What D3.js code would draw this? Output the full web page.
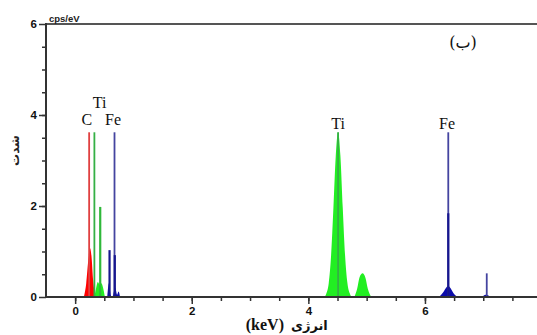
<!DOCTYPE html>
<html>
<head>
<meta charset="utf-8">
<script src="https://cdn.jsdelivr.net/npm/d3@7"></script>
<style>
  body { margin: 0; background: #fff; }
  svg { display: block; }
</style>
</head>
<body>
<div id="vis"></div>
<script>
// axis ticks
const xMajorTicks = [0, 2, 4, 6];
const xMinorTicks = [0, 0.5, 1, 1.5, 2, 2.5, 3, 3.5, 4, 4.5, 5, 5.5, 6, 6.5, 7, 7.5];
const yMajorTicks = [0, 2, 4, 6];
const yMinorTicks = [0.5, 1, 1.5, 2, 2.5, 3, 3.5, 4, 4.5, 5, 5.5];

// filled peaks, [keV, cps/eV]
const cPeak = [[0.15, 0], [0.19, 0.3], [0.225, 0.8], [0.255, 1.07], [0.28, 0.9], [0.31, 0.35], [0.35, 0]];
const tiLPeak = [[0.33, 0], [0.36, 0.2], [0.39, 0.33], [0.42, 0.27], [0.45, 0.3], [0.48, 0.2], [0.51, 0]];
const feLPeak = [[0.55, 0], [0.58, 0.3], [0.61, 0.04], [0.64, 0], [0.66, 0.1], [0.69, 0.2], [0.72, 0.05], [0.745, 0.12], [0.77, 0]];
const tiKaPeak = [[4.28, 0], [4.31, 0.08], [4.35, 0.31], [4.39, 0.91], [4.43, 1.96], [4.47, 3.1], [4.51, 3.62], [4.55, 3.1], [4.59, 1.96], [4.63, 0.91], [4.67, 0.31], [4.71, 0.08], [4.74, 0]];
const tiKbPeak = [[4.79, 0], [4.84, 0.2], [4.88, 0.44], [4.93, 0.52], [4.98, 0.42], [5.02, 0.18], [5.08, 0]];
const feKaPeak = [[6.24, 0], [6.31, 0.1], [6.36, 0.2], [6.40, 0.24], [6.44, 0.19], [6.49, 0.08], [6.56, 0]];
const feKbPeak = [[6.98, 0], [7.04, 0.05], [7.08, 0.04], [7.12, 0]];

// element marker lines (thin, full height) and line heights (thick)
const markerLines = [
  { el: 'C', kev: 0.24, h: 3.62 },
  { el: 'Ti', kev: 0.33, h: 3.62 },
  { el: 'Fe', kev: 0.675, h: 3.62 },
  { el: 'Ti', kev: 4.51, h: 3.62 },
  { el: 'Fe', kev: 6.40, h: 3.62 },
  { el: 'Fe', kev: 7.06, h: 0.52 }
];
const lineHeights = [
  { el: 'Ti', kev: 0.43, h: 1.98 },
  { el: 'Fe', kev: 0.59, h: 1.03 },
  { el: 'Fe', kev: 0.68, h: 0.92 },
  { el: 'Fe', kev: 6.40, h: 1.84 }
];

// peak labels
const peakLabels = [
  { text: 'C', kev: 0.20, y: 3.77 },
  { text: 'Ti', kev: 0.42, y: 4.15 },
  { text: 'Fe', kev: 0.65, y: 3.77 },
  { text: 'Ti', kev: 4.51, y: 3.70 },
  { text: 'Fe', kev: 6.38, y: 3.70 }
];

const fillColor = { C: '#ff0000', Ti: '#22ee22', Fe: '#0c0caa' };
const lineColor = { C: '#e04040', Ti: '#35b045', Fe: '#4444a0' };

const W = 537, H = 335;
const svg = d3.select('#vis').append('svg')
  .attr('width', W)
  .attr('height', H);

const x = d3.scaleLinear().domain([-0.5, 8]).range([46, 46 + 8.5 * 58.3]);
const y = d3.scaleLinear().domain([0, 6]).range([297, 24]);

const area = d3.area()
  .x(d => x(d[0]))
  .y0(y(0))
  .y1(d => y(d[1]))
  .curve(d3.curveMonotoneX);

const peaks = [
  { el: 'C', pts: cPeak },
  { el: 'Ti', pts: tiLPeak },
  { el: 'Fe', pts: feLPeak },
  { el: 'Ti', pts: tiKaPeak },
  { el: 'Ti', pts: tiKbPeak },
  { el: 'Fe', pts: feKaPeak },
  { el: 'Fe', pts: feKbPeak }
];

svg.append('g').selectAll('path')
  .data(peaks)
  .join('path')
  .attr('d', d => area(d.pts))
  .attr('fill', d => fillColor[d.el]);

svg.append('g').selectAll('line')
  .data(markerLines)
  .join('line')
  .attr('x1', d => x(d.kev)).attr('x2', d => x(d.kev))
  .attr('y1', y(0)).attr('y2', d => y(d.h))
  .attr('stroke', d => lineColor[d.el])
  .attr('stroke-width', 1.8);

svg.append('g').selectAll('line')
  .data(lineHeights)
  .join('line')
  .attr('x1', d => x(d.kev)).attr('x2', d => x(d.kev))
  .attr('y1', y(0)).attr('y2', d => y(d.h))
  .attr('stroke', d => d.el === 'Fe' ? '#16168e' : '#2fb83a')
  .attr('stroke-width', 2.2);

svg.append('g').selectAll('text')
  .data(peakLabels)
  .join('text')
  .attr('x', d => x(d.kev))
  .attr('y', d => y(d.y))
  .attr('text-anchor', 'middle')
  .attr('font-family', '"Liberation Serif", "Times New Roman", serif')
  .attr('font-size', 16)
  .attr('fill', '#111')
  .text(d => d.text);

// axes
const tickFont = g => g.selectAll('text')
  .attr('font-family', '"Liberation Sans", Arial, sans-serif')
  .attr('font-weight', 'bold')
  .attr('font-size', 11.5)
  .attr('fill', '#111');

const xMinor = svg.append('g')
  .attr('transform', `translate(0,${y(0)})`)
  .call(d3.axisBottom(x).tickValues(xMinorTicks).tickSize(4).tickFormat(''));
xMinor.select('.domain').remove();
xMinor.selectAll('line').attr('stroke', '#333').attr('stroke-width', 1.5);

const xMajor = svg.append('g')
  .attr('transform', `translate(0,${y(0)})`)
  .call(d3.axisBottom(x).tickValues(xMajorTicks).tickSize(7).tickPadding(3).tickFormat(d3.format('d')));
xMajor.select('.domain').remove();
xMajor.selectAll('line').attr('stroke', '#333').attr('stroke-width', 1.5);
xMajor.call(tickFont);

const yMinor = svg.append('g')
  .attr('transform', `translate(${x(-0.5)},0)`)
  .call(d3.axisLeft(y).tickValues(yMinorTicks).tickSize(4).tickFormat(''));
yMinor.select('.domain').remove();
yMinor.selectAll('line').attr('stroke', '#333').attr('stroke-width', 1.5);

const yMajor = svg.append('g')
  .attr('transform', `translate(${x(-0.5)},0)`)
  .call(d3.axisLeft(y).tickValues(yMajorTicks).tickSize(7).tickPadding(2).tickFormat(d3.format('d')));
yMajor.select('.domain').remove();
yMajor.selectAll('line').attr('stroke', '#333').attr('stroke-width', 1.5);
yMajor.call(tickFont);

// frame lines
svg.append('line')
  .attr('x1', x(-0.5)).attr('x2', W)
  .attr('y1', y(0)).attr('y2', y(0))
  .attr('stroke', '#333').attr('stroke-width', 2);
svg.append('line')
  .attr('x1', x(-0.5)).attr('x2', W)
  .attr('y1', y(6)).attr('y2', y(6))
  .attr('stroke', '#555').attr('stroke-width', 2);
svg.append('line')
  .attr('x1', x(-0.5)).attr('x2', x(-0.5))
  .attr('y1', y(6) - 1).attr('y2', y(0) + 1)
  .attr('stroke', '#333').attr('stroke-width', 2);

// unit, titles
svg.append('text')
  .attr('x', 49).attr('y', 22)
  .attr('font-family', '"Liberation Sans", Arial, sans-serif')
  .attr('font-weight', 'bold')
  .attr('font-size', 9.5)
  .attr('fill', '#222')
  .text('cps/eV');

svg.append('text')
  .attr('transform', `translate(19,${y(3.22)}) rotate(-90)`)
  .attr('text-anchor', 'middle')
  .attr('font-family', '"DejaVu Sans", sans-serif')
  .attr('font-weight', 'bold')
  .attr('font-size', 12)
  .attr('fill', '#222')
  .text('شدت');

svg.append('text')
  .attr('x', 284).attr('y', 330)
  .attr('text-anchor', 'end')
  .attr('font-family', '"Liberation Serif", "Times New Roman", serif')
  .attr('font-weight', 'bold')
  .attr('font-size', 16)
  .attr('fill', '#111')
  .text('(keV)');
svg.append('text')
  .attr('x', 291).attr('y', 330)
  .attr('text-anchor', 'start')
  .attr('font-family', '"DejaVu Sans", sans-serif')
  .attr('font-weight', 'bold')
  .attr('font-size', 13)
  .attr('fill', '#111')
  .text('انرژی');

svg.append('text')
  .attr('x', 463).attr('y', 48)
  .attr('text-anchor', 'middle')
  .attr('font-family', '"DejaVu Serif", "DejaVu Sans", serif')
  .attr('font-size', 16)
  .attr('fill', '#111')
  .text('(ب)');
</script>
</body>
</html>
